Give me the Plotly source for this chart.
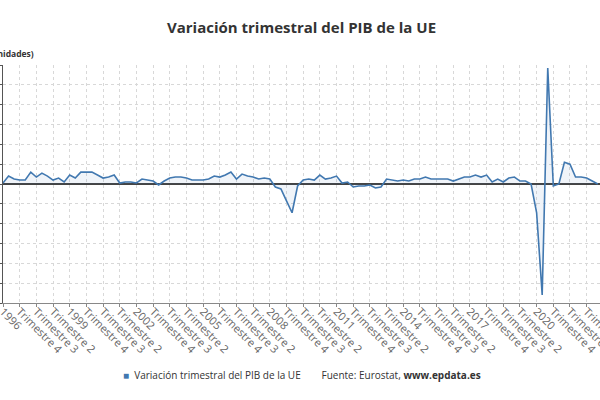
import plotly.graph_objects as go

# Variación trimestral del PIB de la UE (%), 1996 T1 - 2022 T4
years = list(range(1996, 2023))
quarter_names = ["Trimestre 2", "Trimestre 3", "Trimestre 4"]
pib_var = [
    0.1, 0.8, 0.5, 0.4,   # 1996
    0.4, 1.2, 0.7, 1.1,   # 1997
    0.8, 0.4, 0.6, 0.2,   # 1998
    0.9, 0.6, 1.2, 1.2,   # 1999
    1.2, 0.9, 0.6, 0.7,   # 2000
    0.9, 0.1, 0.2, 0.2,   # 2001
    0.1, 0.5, 0.4, 0.3,   # 2002
    -0.1, 0.3, 0.6, 0.7,  # 2003
    0.7, 0.6, 0.4, 0.4,   # 2004
    0.4, 0.5, 0.8, 0.7,   # 2005
    0.9, 1.2, 0.5, 1.0,   # 2006
    0.8, 0.7, 0.5, 0.6,   # 2007
    0.5, -0.3, -0.5, -1.7,  # 2008
    -2.9, -0.2, 0.4, 0.5,   # 2009
    0.4, 0.9, 0.5, 0.6,   # 2010
    0.8, 0.1, 0.2, -0.3,  # 2011
    -0.2, -0.2, -0.1, -0.4,  # 2012
    -0.3, 0.5, 0.4, 0.3,  # 2013
    0.4, 0.3, 0.5, 0.5,   # 2014
    0.7, 0.5, 0.5, 0.5,   # 2015
    0.5, 0.3, 0.5, 0.7,   # 2016
    0.7, 0.9, 0.7, 0.9,   # 2017
    0.2, 0.5, 0.2, 0.6,   # 2018
    0.7, 0.3, 0.3, 0.0,   # 2019
    -2.9, -11.2, 11.7, -0.2,  # 2020
    0.0, 2.2, 2.0, 0.7,   # 2021
    0.7, 0.6, 0.3, 0.0,   # 2022
]

labels = []
for y in years:
    labels.append(str(y))
    labels.extend(quarter_names)
x_idx = list(range(len(pib_var)))

line_color = "#4178b0"
font_family = "Open Sans"

fig = go.Figure()
fig.add_trace(go.Scatter(
    x=x_idx, y=pib_var,
    mode="lines",
    line=dict(color=line_color, width=1.6),
    fill="tozeroy",
    fillcolor="rgba(65,120,176,0.08)",
    showlegend=False,
    name="Variación trimestral del PIB de la UE",
))

fig.update_layout(
    width=600, height=400,
    margin=dict(l=3, r=0, t=65, b=97, autoexpand=False),
    paper_bgcolor="white",
    plot_bgcolor="white",
    font=dict(family=font_family, color="#333333"),
    title=dict(
        text="<b>Variación trimestral del PIB de la UE</b>",
        x=0.5, xanchor="center",
        xref="paper", yref="container", y=1 - 28 / 400, yanchor="middle",
        font=dict(size=15, color="#333333"),
    ),
    xaxis=dict(
        range=[0, 107.4],
        tickmode="array",
        tickvals=x_idx[::3],
        ticktext=labels[::3],
        tickangle=45,
        tickfont=dict(size=11, color="#666666"),
        ticklabeloverflow="allow",
        ticklabelstandoff=-6,
        showgrid=True, gridcolor="#d8d8d8", griddash="dot", gridwidth=1,
        showline=True, linecolor="#888888", linewidth=1,
        ticks="outside", ticklen=3, tickcolor="#888888",
        zeroline=False,
        automargin=False,
    ),
    yaxis=dict(
        range=[-12, 12],
        dtick=2,
        showticklabels=False,
        showgrid=True, gridcolor="#d8d8d8", griddash="dot", gridwidth=1,
        showline=True, linecolor="#555555", linewidth=1,
        ticks="outside", ticklen=3, tickcolor="#555555",
        zeroline=True, zerolinecolor="#444444", zerolinewidth=1.5,
        automargin=False,
    ),
    annotations=[
        dict(
            text="<b>(unidades)</b>",
            xref="paper", yref="paper",
            x=33 / 597, y=1 + 11 / 238,
            xanchor="right", yanchor="middle",
            showarrow=False,
            font=dict(size=8.5, color="#333333"),
        ),
        dict(
            text='<span style="color:#4178b0">■</span>  Variación trimestral del PIB de la UE'
                 '        Fuente: Eurostat, <b>www.epdata.es</b>',
            xref="paper", yref="paper",
            x=0.5, y=-(375 - 303) / 238,
            xanchor="center", yanchor="middle",
            showarrow=False,
            font=dict(size=10, color="#333333"),
        ),
    ],
)

# page has default body margin; remove it so the chart sits at the window corner
fig.write_html("out.html", config={"displayModeBar": False},
               post_script="document.body.style.margin='0';")
